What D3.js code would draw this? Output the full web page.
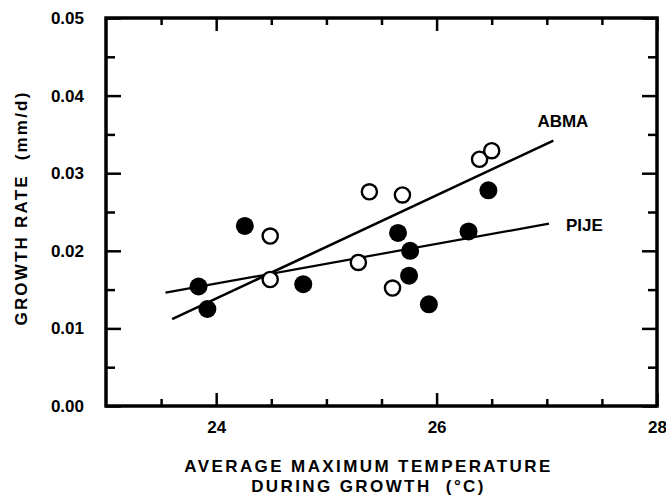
<!DOCTYPE html>
<html>
<head>
<meta charset="utf-8">
<script src="https://cdn.jsdelivr.net/npm/d3@7"></script>
<style>
  body { margin: 0; background: #fff; }
  svg text { font-family: "Liberation Sans", Arial, sans-serif; font-weight: bold; fill: #000; white-space: pre; }
</style>
</head>
<body>
<svg id="chart"></svg>
<script>
var width = 666, height = 495;
var margin = {top: 18, right: 9, bottom: 89, left: 106};
var w = width - margin.left - margin.right;
var h = height - margin.top - margin.bottom;

// PIJE = filled, ABMA = open
var pijeTemp = [23.84, 23.92, 24.26, 24.79, 25.65, 25.76, 25.75, 25.93, 26.29, 26.47];
var pijeRate = [0.0154, 0.0125, 0.0232, 0.0157, 0.0223, 0.0200, 0.0168, 0.0131, 0.0225, 0.0278];
var abmaTemp = [24.49, 24.49, 25.29, 25.39, 25.69, 25.60, 26.39, 26.50];
var abmaRate = [0.0219, 0.0163, 0.0185, 0.0276, 0.0272, 0.0152, 0.0318, 0.0329];

// regression lines (end points)
var abmaFitTemp = [23.60, 27.06];
var abmaFitRate = [0.0112, 0.0342];
var pijeFitTemp = [23.54, 27.02];
var pijeFitRate = [0.0146, 0.0235];

var xMajor = [24, 26, 28];
var xMinor = [23.5, 24.5, 25, 25.5, 26.5, 27, 27.5];
var yMajor = [0, 0.01, 0.02, 0.03, 0.04, 0.05];
var yMinor = [0.005, 0.015, 0.025, 0.035, 0.045];

var svg = d3.select("#chart")
    .attr("width", width)
    .attr("height", height)
    .append("g")
    .attr("transform", "translate(" + margin.left + "," + margin.top + ")");

var x = d3.scaleLinear().domain([23, 28]).range([0, w]);
var y = d3.scaleLinear().domain([0, 0.05]).range([h, 0]);

function styleAxis(g) {
    g.select(".domain").remove();
    g.selectAll("line").attr("stroke", "#000").attr("stroke-width", 2.5);
    g.selectAll("text").style("font-size", "17px");
}

// bottom
svg.append("g").attr("transform", "translate(0," + h + ")")
    .call(d3.axisBottom(x).tickValues(xMinor).tickSize(-7).tickFormat(""))
    .call(styleAxis);
svg.append("g").attr("transform", "translate(0," + h + ")")
    .call(d3.axisBottom(x).tickValues(xMajor).tickSize(-13).tickPadding(15).tickFormat(d3.format("d")))
    .call(styleAxis);
// top
svg.append("g")
    .call(d3.axisTop(x).tickValues(xMinor).tickSize(-7).tickFormat(""))
    .call(styleAxis);
svg.append("g")
    .call(d3.axisTop(x).tickValues(xMajor).tickSize(-13).tickFormat(""))
    .call(styleAxis);
// left
svg.append("g")
    .call(d3.axisLeft(y).tickValues(yMinor).tickSize(-9).tickFormat(""))
    .call(styleAxis);
svg.append("g")
    .call(d3.axisLeft(y).tickValues(yMajor).tickSize(-15).tickPadding(22).tickFormat(d3.format(".2f")))
    .call(styleAxis);
// right
svg.append("g").attr("transform", "translate(" + w + ",0)")
    .call(d3.axisRight(y).tickValues(yMinor).tickSize(-9).tickFormat(""))
    .call(styleAxis);
svg.append("g").attr("transform", "translate(" + w + ",0)")
    .call(d3.axisRight(y).tickValues(yMajor).tickSize(-15).tickFormat(""))
    .call(styleAxis);

// frame
svg.append("rect")
    .attr("width", w)
    .attr("height", h)
    .attr("fill", "none")
    .attr("stroke", "#000")
    .attr("stroke-width", 3.5);

// fit lines
var line = d3.line().x(function(d) { return x(d[0]); }).y(function(d) { return y(d[1]); });
svg.append("path")
    .attr("d", line(d3.zip(abmaFitTemp, abmaFitRate)))
    .attr("fill", "none").attr("stroke", "#000").attr("stroke-width", 2.6);
svg.append("path")
    .attr("d", line(d3.zip(pijeFitTemp, pijeFitRate)))
    .attr("fill", "none").attr("stroke", "#000").attr("stroke-width", 2.2);

// points
svg.selectAll(".abma")
    .data(d3.zip(abmaTemp, abmaRate))
    .enter().append("circle")
    .attr("class", "abma")
    .attr("cx", function(d) { return x(d[0]); })
    .attr("cy", function(d) { return y(d[1]); })
    .attr("r", 7.6)
    .attr("fill", "#fff")
    .attr("stroke", "#000")
    .attr("stroke-width", 2.4);

svg.selectAll(".pije")
    .data(d3.zip(pijeTemp, pijeRate))
    .enter().append("circle")
    .attr("class", "pije")
    .attr("cx", function(d) { return x(d[0]); })
    .attr("cy", function(d) { return y(d[1]); })
    .attr("r", 9)
    .attr("fill", "#000");

// series labels
svg.append("text")
    .attr("x", x(abmaFitTemp[1]) - 16)
    .attr("y", y(abmaFitRate[1]) - 14)
    .style("font-size", "17px")
    .text("ABMA");
svg.append("text")
    .attr("x", x(pijeFitTemp[1]) + 17)
    .attr("y", y(pijeFitRate[1]) + 7)
    .style("font-size", "17px")
    .text("PIJE");

// axis titles
var xt = svg.append("text")
    .attr("text-anchor", "middle")
    .style("font-size", "17px")
    .style("letter-spacing", "2.4px");
xt.append("tspan").attr("x", w / 2 - 13).attr("y", h + 66).text("AVERAGE MAXIMUM TEMPERATURE");
xt.append("tspan").attr("x", w / 2 - 13).attr("y", h + 86).text("DURING GROWTH  (\u00B0C)");

svg.append("text")
    .attr("transform", "translate(" + (-79) + "," + (h / 2 - 4) + ") rotate(-90)")
    .attr("text-anchor", "middle")
    .style("font-size", "17px")
    .style("letter-spacing", "2.2px")
    .text("GROWTH RATE  (mm/d)");
</script>
</body>
</html>
